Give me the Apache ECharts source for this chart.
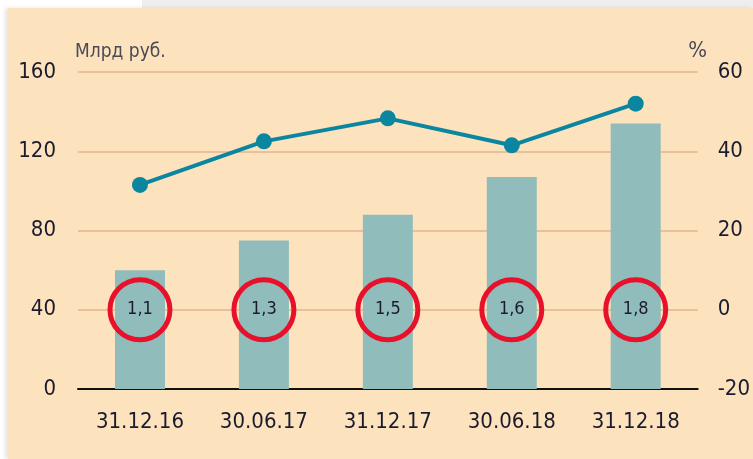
<!DOCTYPE html>
<html>
<head>
<meta charset="utf-8">
<script src="https://cdn.jsdelivr.net/npm/echarts@6/dist/echarts.min.js"></script>
<style>
  html, body { margin: 0; padding: 0; width: 753px; height: 459px; background: #ffffff; overflow: hidden; }
  #strip { position: absolute; left: 142px; top: 0; width: 611px; height: 8px; background: #eeeeee; }
  #chart { position: absolute; left: 8px; top: 8px; width: 745px; height: 451px; background: #fde3bd; box-shadow: -3px 0 4px rgba(0,0,0,0.10); }
</style>
</head>
<body>
<div id="strip"></div>
<div id="chart"></div>
<script>
const categories = ['31.12.16', '30.06.17', '31.12.17', '30.06.18', '31.12.18']
const volumes = [60, 75, 88, 107, 134]      // Млрд руб.
const shares = [31.5, 42.5, 48.3, 41.5, 52] // %
const ratios = [1.1, 1.3, 1.5, 1.6, 1.8]
const leftTicks = [0, 40, 80, 120, 160]
const rightTicks = [-20, 0, 20, 40, 60]

const font = "'DejaVu Sans Condensed', 'Liberation Sans Narrow', sans-serif"
const textColor = '#1b1b2f'

const chart = echarts.init(document.getElementById('chart'))

const option = {
  animation: false,
  grid: { left: 70, right: 53, top: 64, bottom: 70 },
  xAxis: {
    type: 'category',
    data: categories,
    axisLine: { lineStyle: { color: '#111111', width: 2 } },
    axisTick: { show: false },
    axisLabel: { interval: 0, fontFamily: font, fontSize: 22, color: textColor, margin: 22 }
  },
  yAxis: [
    {
      type: 'value',
      min: leftTicks[0],
      max: leftTicks[leftTicks.length - 1],
      interval: 40,
      name: 'Млрд руб.',
      nameLocation: 'end',
      nameGap: 10,
      nameTextStyle: { fontFamily: font, fontSize: 19, color: '#4a4a55', align: 'left', padding: [0, 0, 0, -3] },
      axisLine: { show: false },
      axisTick: { show: false },
      axisLabel: { fontFamily: font, fontSize: 22, color: textColor, margin: 22 },
      splitLine: { lineStyle: { color: '#e8c09c', width: 2 } }
    },
    {
      type: 'value',
      min: rightTicks[0],
      max: rightTicks[rightTicks.length - 1],
      interval: 20,
      name: '%',
      nameLocation: 'end',
      nameGap: 10,
      nameTextStyle: { fontFamily: font, fontSize: 22, color: '#4a4a55', align: 'center' },
      axisLine: { show: false },
      axisTick: { show: false },
      axisLabel: { fontFamily: font, fontSize: 22, color: textColor, margin: 20 },
      splitLine: { show: false }
    }
  ],
  series: [
    {
      type: 'bar',
      data: volumes,
      barWidth: 50,
      itemStyle: { color: '#90bcbc' },
      z: 2
    },
    {
      type: 'line',
      yAxisIndex: 1,
      data: shares,
      symbol: 'circle',
      symbolSize: 16,
      lineStyle: { color: '#0b86a0', width: 4 },
      itemStyle: { color: '#0b86a0' },
      z: 4
    },
    {
      type: 'scatter',
      yAxisIndex: 1,
      data: ratios.map((r, i) => [i, 0, r]),
      symbol: 'circle',
      symbolSize: 60,
      itemStyle: { color: 'rgba(0,0,0,0)', borderColor: '#e8102a', borderWidth: 5, opacity: 1 },
      label: {
        show: true,
        position: 'inside',
        fontFamily: font,
        fontSize: 18,
        color: textColor,
        formatter: p => String(p.value[2]).replace('.', ',')
      },
      z: 5
    }
  ]
}

chart.setOption(option)
</script>
</body>
</html>
